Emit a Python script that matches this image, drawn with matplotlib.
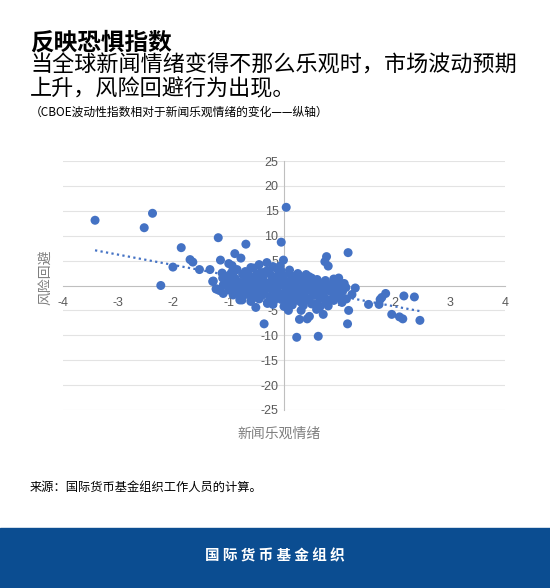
import numpy as np
import matplotlib.pyplot as plt
from matplotlib.patches import Rectangle

plt.rcParams['font.family'] = ['Noto Sans CJK SC', 'DejaVu Sans']
plt.rcParams['axes.unicode_minus'] = False

# ---------------------------------------------------
# Datos: optimismo de noticias (x) vs cambio del VIX (y)
# ---------------------------------------------------
# puntos aislados
outlier_x = [-3.42, -2.38, -2.53, -2.23, -1.86, -2.01, -1.70, -1.65, -1.53, -1.34,
             -1.29, -1.19, -1.15, -1.12, -1.11, -0.89, -0.78, -0.69, -1.00, -0.94,
             -1.23, -1.10, -0.76, -0.51, -0.36, -0.30, -0.05, 0.04, -0.01, -0.07,
             -0.12, -0.31, 0.77, 0.74, 0.80, 1.16, 0.99, 1.09, 1.29, 1.23,
             1.13, 1.17, 1.15, 1.53, 1.72, 1.74, 1.77, 1.84, 2.17, 2.36,
             1.95, 2.09, 2.15, 2.46, 0.23, 0.62, 0.28, 0.42, 0.46, 0.59,
             0.65, 0.71, 0.31, 0.08, -1.28, -1.22, -1.17, -0.60, -0.45]
outlier_y = [13.1, 14.5, 11.6, 0.0, 7.6, 3.7, 5.2, 4.7, 3.2, 3.2,
             0.8, 9.6, 5.1, 2.5, 1.5, 6.4, 5.5, 8.3, 4.4, 4.0,
             -0.7, -1.6, -2.9, -4.4, -7.7, -3.6, 8.7, 15.7, 5.1, 3.9,
             3.3, 4.6, 5.8, 4.8, 3.9, 6.6, 1.5, 0.4, -0.5, -1.8,
             -2.7, -5.0, -7.7, -3.8, -3.8, -2.8, -2.4, -1.6, -2.1, -2.3,
             -5.8, -6.3, -6.7, -7.0, -10.4, -10.2, -6.8, -6.7, -6.2, -4.8,
             -4.3, -5.8, -5.0, -5.0, 0.9, -0.7, -1.0, 3.6, 4.2]

# nube central
cluster_x = [-0.85, -0.70, -0.55, -0.42, -0.30, -0.20, -0.05, 0.10, 0.25, 0.40,
             -1.00, -0.90, -0.75, -0.62, -0.50, -0.38, -0.25, -0.12, 0.00, 0.15,
             0.30, 0.45, 0.60, 0.75, 0.90,
             -1.05, -0.95, -0.82, -0.70, -0.58, -0.46, -0.34, -0.22, -0.10, 0.02,
             0.12, 0.22, 0.35, 0.48, 0.60, 0.72, 0.85, 0.95, 1.05,
             -1.10, -0.98, -0.88, -0.76, -0.64, -0.52, -0.40, -0.28, -0.16, -0.04,
             0.08, 0.20, 0.32, 0.44, 0.56, 0.68, 0.80, 0.92, 1.02, 1.12,
             -1.00, -0.86, -0.72, -0.60, -0.48, -0.36, -0.24, -0.12, 0.00, 0.10,
             0.22, 0.34, 0.46, 0.58, 0.70, 0.82, 0.94, 1.06,
             -0.92, -0.78, -0.66, -0.54, -0.40, -0.26, -0.14, -0.02, 0.10, 0.20,
             0.30, 0.42, 0.54, 0.66, 0.78, 0.90, 1.00,
             -0.80, -0.60, -0.45, -0.30, -0.18, -0.05, 0.05, 0.18, 0.30, 0.45,
             0.60, 0.75, 0.90, 1.05,
             -0.20, 0.00, 0.15, 0.35, 0.50, 0.80,
             -0.45, -0.30, -0.15, 0.05, 0.18, 0.28, 0.38, -0.60, 0.50, 0.65,
             -0.95, -0.65, -0.35, -0.08, 0.14, 0.26, 0.52, 0.70, 0.88, 1.00]
cluster_y = [3.2, 2.8, 3.5, 2.6, 3.0, 3.8, 2.9, 3.1, 2.4, 2.2,
             2.0, 1.6, 2.2, 1.8, 2.1, 1.5, 2.3, 1.9, 2.0, 1.7,
             1.4, 1.8, 1.2, 1.0, 1.3,
             0.9, 1.2, 0.7, 1.1, 0.8, 1.3, 0.6, 1.0, 1.2, 0.7,
             0.9, 1.1, 0.5, 0.8, 0.4, 0.6, 0.2, 0.5, 0.3,
             0.1, -0.3, 0.2, -0.1, 0.3, -0.2, 0.0, 0.4, -0.4, 0.1,
             -0.2, 0.3, -0.5, 0.0, -0.3, -0.1, -0.6, -0.2, -0.8, -0.4,
             -0.9, -1.2, -0.8, -1.4, -1.0, -1.3, -0.7, -1.1, -1.5, -0.9,
             -1.2, -1.4, -1.0, -1.3, -1.6, -1.1, -1.5, -1.2,
             -1.9, -2.2, -1.8, -2.4, -2.0, -2.3, -1.7, -2.1, -2.5, -1.9,
             -2.2, -2.6, -2.0, -2.3, -2.8, -2.1, -2.5,
             -2.9, -3.2, -2.7, -3.4, -3.0, -2.8, -3.5, -3.1, -3.3, -2.9,
             -3.6, -3.2, -3.0, -3.4,
             -3.8, -4.2, -3.9, -4.0, -3.7, -4.1,
             0.5, -0.5, 0.7, -0.7, 0.4, -1.6, 0.8, -0.5, 1.5, -2.5,
             2.6, 2.5, 2.7, 2.4, 1.9, 2.1, 0.9, -0.4, -1.0, -1.9]

x_ticks = [-4, -3, -2, -1, 0, 1, 2, 3, 4]
y_ticks = [-25, -20, -15, -10, -5, 0, 5, 10, 15, 20, 25]

x_all = np.array(outlier_x + cluster_x)
y_all = np.array(outlier_y + cluster_y)

azul = '#4472C4'
gris = '#595959'

# ---------------------------------------------------
# Figura
# ---------------------------------------------------
fig = plt.figure(figsize=(5.5, 5.88), dpi=100)
ax = fig.add_axes([63/550, 1 - 410/588, 442/550, 249/588])

for yv in y_ticks:
    if yv != 0:
        ax.axhline(yv, color='#e3e3e3', lw=0.8, zorder=0)

ax.scatter(x_all, y_all, s=42, color=azul, edgecolors='none', zorder=3, clip_on=False)

# linea de tendencia (ajuste lineal)
m, b = np.polyfit(x_all, y_all, 1)
xt = np.array([x_all.min(), x_all.max()])
ax.plot(xt, m * xt + b, ls=(0, (1, 1.5)), color=azul, lw=1.6, zorder=4)

ax.set_xlim(-4, 4)
ax.set_ylim(-25, 25)
ax.set_xticks(x_ticks)
ax.set_yticks(y_ticks)

for s in ['top', 'right']:
    ax.spines[s].set_visible(False)
ax.spines['left'].set_position(('data', 0))
ax.spines['bottom'].set_position(('data', 0))
ax.spines['left'].set_color('#bfbfbf')
ax.spines['bottom'].set_color('#bfbfbf')
ax.tick_params(length=0, labelsize=9, labelcolor=gris, pad=4)
ax.tick_params(axis='x', pad=8)
for lab in ax.get_xticklabels() + ax.get_yticklabels():
    lab.set_family(['Liberation Sans', 'DejaVu Sans'])

fig.text(279/550, 1 - 434/588, '新闻乐观情绪', ha='center', va='center',
         fontsize=10, color='#7f7f7f')
fig.text(45/550, 1 - 277/588, '风险回避', ha='center', va='center',
         fontsize=10, color='#7f7f7f', rotation=90)

# ---------------------------------------------------
# Titulos y fuente
# ---------------------------------------------------
fig.text(30/550, 1 - 42/588, '反映恐惧指数', ha='left', va='center',
         fontsize=17, fontweight='heavy', color='black')
fig.text(30/550, 1 - 66/588, '当全球新闻情绪变得不那么乐观时，市场波动预期',
         ha='left', va='center', fontsize=15.9, color='black')
fig.text(30/550, 1 - 89/588, '上升，风险回避行为出现。',
         ha='left', va='center', fontsize=15.9, color='black')
fig.text(30/550, 1 - 112/588, '（CBOE波动性指数相对于新闻乐观情绪的变化——纵轴）',
         ha='left', va='center', fontsize=8.5, color='black')
fig.text(30/550, 1 - 487/588, '来源：国际货币基金组织工作人员的计算。',
         ha='left', va='center', fontsize=8.8, color='black')

fig.add_artist(Rectangle((0, 0), 1, 60/588, transform=fig.transFigure,
                         color='#0b4d91', zorder=0))
fig.text(0.5, 1 - 555/588, '国 际 货 币 基 金 组 织', ha='center', va='center',
         fontsize=10.5, fontweight='bold', color='white')

fig.savefig('out.png', dpi=100)
